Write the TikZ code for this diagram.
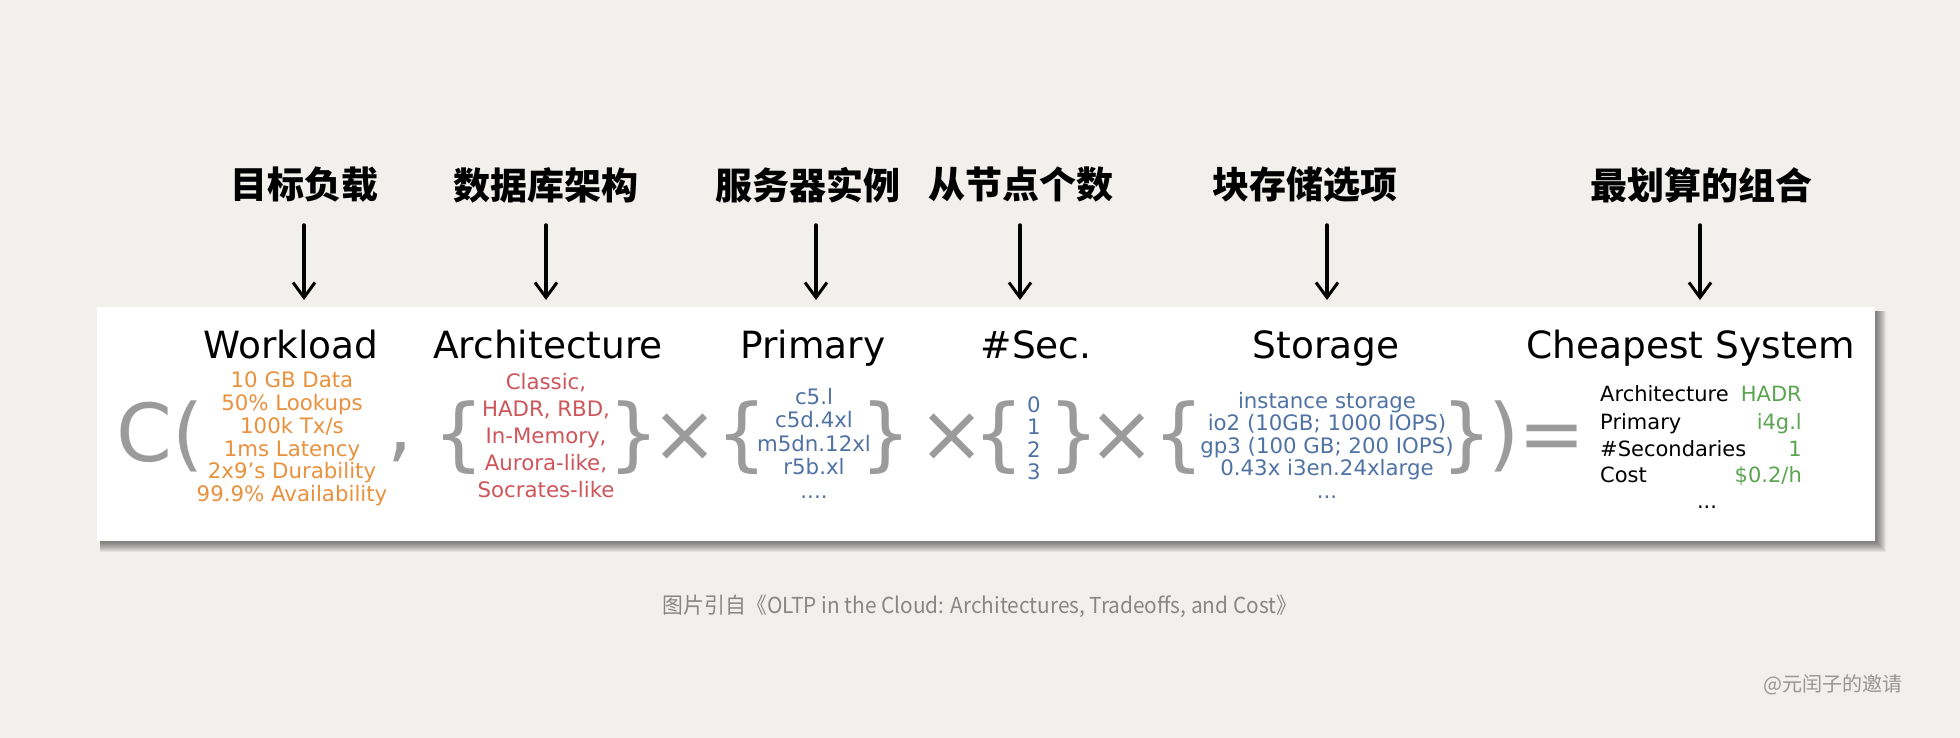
\documentclass[tikz,border=0pt]{standalone}
\usepackage{fontspec}
\usepackage{graphicx}
\setmainfont{DejaVu Sans}
\newfontfamily\cjk{Noto Sans CJK SC}
\usetikzlibrary{arrows.meta}
\definecolor{paper}{RGB}{241,240,236}
\definecolor{glyph}{RGB}{155,155,155}
\definecolor{orng}{RGB}{233,145,60}
\definecolor{redd}{RGB}{206,85,90}
\definecolor{blu}{RGB}{80,115,165}
\definecolor{grn}{RGB}{90,165,80}
\definecolor{capgray}{RGB}{135,135,135}
\definecolor{wmgray}{RGB}{150,150,150}
\tikzset{
  hdr/.style={font=\cjk\bfseries\fontsize{37}{37}\selectfont, anchor=center, inner sep=0pt},
  col/.style={font=\fontsize{37.5}{37.5}\selectfont, anchor=base, inner sep=0pt},
  lst/.style={font=\fontsize{21.3}{#1}\selectfont, align=center, inner sep=0pt, anchor=center},
  gl/.style={font=\fontsize{80}{80}\selectfont, text=glyph, anchor=base, inner sep=0pt},
  tab/.style={font=\fontsize{21}{21}\selectfont, inner sep=0pt},
  harrow/.style={line width=3.5pt, line cap=round, line join=round,
    -{Straight Barb[length=15pt,width=22pt,line width=3pt]}},
}
\newcommand{\brc}[1]{\makebox[26pt]{#1}}
\begin{document}
\begin{tikzpicture}[x=1pt,y=-1pt]
\fill[paper] (0,0) rectangle (1960,738);
\useasboundingbox (0,0) rectangle (1960,738);
% shadow
\foreach \i in {0,...,9}
  \fill[black,opacity=0.055] (100,311) rectangle (1877+\i,543+\i);
\node[fill=white, inner sep=0pt, minimum width=1778pt, minimum height=234pt, anchor=north west] (box) at (97,307) {};

% CJK headings
\node[hdr] (h1) at (304,185) {目标负载};
\node[hdr] (h2) at (546,185) {数据库架构};
\node[hdr] (h3) at (808,185) {服务器实例};
\node[hdr] (h4) at (1021,185) {从节点个数};
\node[hdr] (h5) at (1305,185) {块存储选项};
\node[hdr] (h6) at (1701,185) {最划算的组合};

% arrows
\foreach \n/\x in {1/304,2/546,3/816,4/1020,5/1327,6/1700}{
  \coordinate (t\n) at (\x,225);
  \coordinate (b\n) at (\x,300);
}
\foreach \n in {1,...,6} \draw[harrow] (t\n) -- (b\n);

% column headers
\node[col] (c1) at (291,358) {Workload};
\node[col] (c2) at (548,358) {Architecture};
\node[col] (c3) at (813,358) {Primary};
\node[col] (c4) at (1036,358) {\#Sec.};
\node[col] (c5) at (1326,358) {Storage};
\node[col] (c6) at (1691,358) {Cheapest System};

% gray glyphs
\node[gl, anchor=base west] (cpar) at (116,461) {C(};
\node[gl] (comma) at (400,452) {,};
\node[gl] (lb1) at (459,461) {\brc{\{}};
\node[gl] (rb1) at (634,461) {\brc{\}}};
\node[gl] (x1) at (685,461) {×};
\node[gl] (lb2) at (742,461) {\brc{\{}};
\node[gl] (rb2) at (886,461) {\brc{\}}};
\node[gl] (x2) at (952,461) {×};
\node[gl] (lb3) at (999,461) {\brc{\{}};
\node[gl] (rb3) at (1074,461) {\brc{\}}};
\node[gl] (x3) at (1122,461) {×};
\node[gl] (lb4) at (1179,461) {\brc{\{}};
\node[gl] (rb4) at (1467,461) {\brc{\}}};
\node[gl] (rpar) at (1504,461) {)};
\node[gl] (eq) at (1552,461) {=};

% lists
\node[lst=22.75, text=orng] (l1) at (292,439) {10 GB Data\\50\% Lookups\\100k Tx/s\\1ms Latency\\2x9{\char"27}s Durability\\99.9\% Availability};
\node[lst=27, text=redd] (l2) at (546,436) {Classic,\\HADR, RBD,\\In-Memory,\\Aurora-like,\\Socrates-like};
\node[lst=23.5, text=blu] (l3) at (814,443) {c5.l\\c5d.4xl\\m5dn.12xl\\r5b.xl\\....};
\node[lst=22.5, text=blu] (l4) at (1034,438) {0\\1\\2\\3};
\node[lst=22.5, text=blu] (l5) at (1327,445) {instance storage\\io2 (10GB; 1000 IOPS)\\gp3 (100 GB; 200 IOPS)\\0.43x i3en.24xlarge\\...};

% result table
\node[tab, anchor=base west] (k1) at (1600,401) {Architecture};
\node[tab, anchor=base west] (k2) at (1600,429) {Primary};
\node[tab, anchor=base west] (k3) at (1600,456) {\#Secondaries};
\node[tab, anchor=base west] (k4) at (1600,482) {Cost};
\node[tab, anchor=base east, text=grn] (v1) at (1802,401) {HADR};
\node[tab, anchor=base east, text=grn] (v2) at (1802,429) {i4g.l};
\node[tab, anchor=base east, text=grn] (v3) at (1802,456) {1};
\node[tab, anchor=base east, text=grn] (v4) at (1802,482) {\$0.2/h};
\node[tab, anchor=base] (dots) at (1707,508) {...};

% caption & watermark
\node[inner sep=0pt, text=capgray, font=\cjk\fontsize{22}{22}\selectfont] (cap) at (980,606)
  {\resizebox{634pt}{\height}{图片引自《OLTP in the Cloud: Architectures, Tradeoffs, and Cost》}};
\node[inner sep=0pt, text=wmgray, font=\cjk\fontsize{20}{20}\selectfont] (wm) at (1833,685) {@元闰子的邀请};
\end{tikzpicture}
\end{document}
